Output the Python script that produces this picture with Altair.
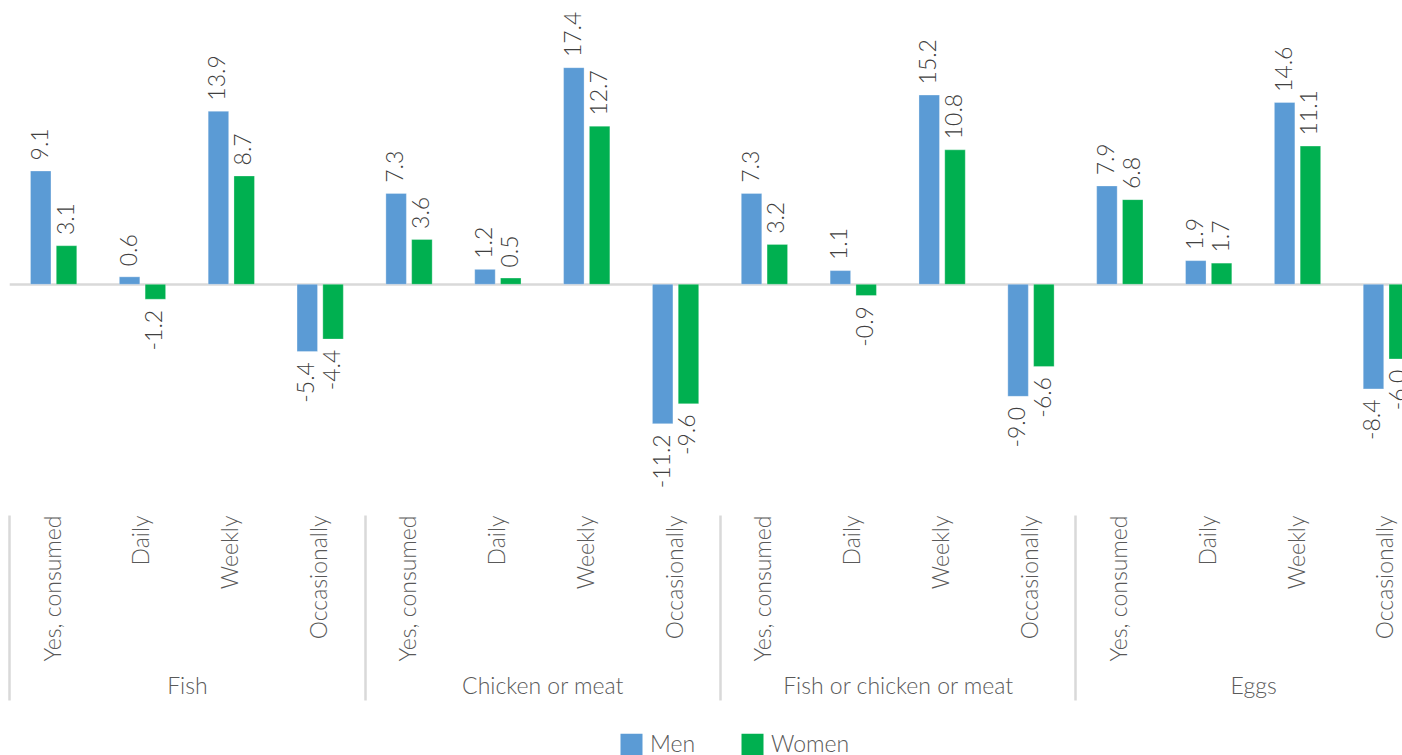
import altair as alt
import pandas as pd

# Food groups and how often they were eaten
groups = ["Fish", "Chicken or meat", "Fish or chicken or meat", "Eggs"]
frequencies = ["Yes, consumed", "Daily", "Weekly", "Occasionally"]
series = ["Men", "Women"]

# Change in percentage points, one value per group x frequency
men = [9.1, 0.6, 13.9, -5.4,
       7.3, 1.2, 17.4, -11.2,
       7.3, 1.1, 15.2, -9.0,
       7.9, 1.9, 14.6, -8.4]
women = [3.1, -1.2, 8.7, -4.4,
         3.6, 0.5, 12.7, -9.6,
         3.2, -0.9, 10.8, -6.6,
         6.8, 1.7, 11.1, -6.0]

colors = ["#5B9BD5", "#00B050"]

rows = []
keys = []
for gi, g in enumerate(groups):
    for fi, f in enumerate(frequencies):
        k = f"{g}|{f}"
        keys.append(k)
        i = gi * 4 + fi
        for s, vals in zip(series, [men, women]):
            v = vals[i]
            rows.append({"group": g, "key": k, "series": s,
                         "value": v, "label": f"{v:.1f}"})
df = pd.DataFrame(rows)
gdf = pd.DataFrame({"group": groups})

FONT = "Lato"
WEIGHT = 300
FS = 23
BAND = 88.85          # width of one category slot
X0 = 1.2              # start of first slot inside the plot
W, H = 1394, 515

x_enc = alt.X(
    "key:N", sort=keys,
    scale=alt.Scale(domain=keys, range=[X0, X0 + 16 * BAND],
                    paddingInner=0, paddingOuter=0),
    axis=alt.Axis(title=None, domain=False, ticks=False, tickSize=0,
                  labelAngle=-90, labelAlign="right", labelBaseline="middle",
                  labelPadding=0, labelFont=FONT, labelFontSize=FS,
                  labelFontWeight=WEIGHT, labelLimit=0,
                  labelColor="#595959", labelExpr="split(datum.label, '|')[1]",
                  labelOverlap=False, labelBound=False),
)
xo_enc = alt.XOffset(
    "series:N", sort=series,
    scale=alt.Scale(domain=series, paddingInner=0.205, paddingOuter=0.825),
)
y_enc = alt.Y(
    "value:Q",
    scale=alt.Scale(domain=[-18.53, 22.835], nice=False, zero=False),
    axis=alt.Axis(title=None, values=[0], grid=True, gridColor="#d9d9d9",
                  gridWidth=2.5, labels=False, ticks=False, domain=False),
)

base = alt.Chart(df).encode(x=x_enc, xOffset=xo_enc, y=y_enc)

bars = base.mark_bar(stroke="white", strokeWidth=0.6, strokeOpacity=0.5).encode(
    color=alt.Color(
        "series:N",
        scale=alt.Scale(domain=series, range=colors),
        legend=alt.Legend(
            orient="none", legendX=612, legendY=733, direction="horizontal",
            title=None, symbolType="square", symbolSize=484,
            symbolStrokeWidth=0, symbolOpacity=1, labelFontSize=FS,
            labelFont=FONT, labelFontWeight=WEIGHT, labelColor="#595959",
            labelOffset=7, columnPadding=45, padding=0, labelLimit=0,
        ),
    )
)

label_style = dict(angle=270, baseline="middle", fontSize=FS, font=FONT,
                   fontWeight=WEIGHT, color="#404040")
pos_labels = base.transform_filter("datum.value >= 0").mark_text(
    align="left", dx=10.6, **label_style
).encode(text="label:N")
neg_labels = base.transform_filter("datum.value < 0").mark_text(
    align="right", dx=-10.6, **label_style
).encode(text="label:N")

data_layer = alt.layer(bars, pos_labels, neg_labels)

# Outer category axis: group names with separators between groups
group_layer = alt.Chart(gdf).mark_rule(opacity=0).encode(
    x=alt.X(
        "group:N", sort=groups,
        scale=alt.Scale(domain=groups, range=[X0, X0 + 16 * BAND],
                        paddingInner=0, paddingOuter=0),
        axis=alt.Axis(orient="bottom", title=None, domain=False,
                      tickBand="extent", tickSize=185, tickColor="#d9d9d9",
                      tickWidth=2.5, labelPadding=-7, labelLimit=0,
                      labelBaseline="alphabetic", labelFont=FONT,
                      labelFontSize=FS, labelFontWeight=WEIGHT,
                      labelColor="#595959", labelAngle=0),
    )
)

chart = (
    alt.layer(data_layer, group_layer)
    .resolve_scale(x="independent")
    .resolve_axis(x="independent")
    .properties(
        width=W, height=H,
        padding={"left": 8, "top": 0, "right": 0, "bottom": 240},
        autosize=alt.AutoSizeParams(type="none"),
        background="white",
    )
    .configure_view(stroke=None)
)

chart.save("out.html", embed_options={"renderer": "svg", "actions": False})
